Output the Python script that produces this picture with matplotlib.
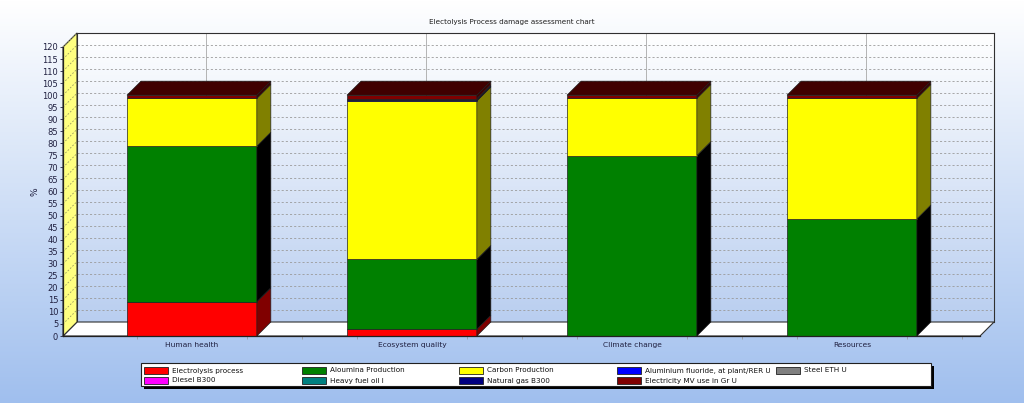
import numpy as np
import matplotlib
matplotlib.use("Agg")
import matplotlib.pyplot as plt
from matplotlib.patches import Polygon, Rectangle
from matplotlib.colors import to_rgb

# ---------------- data ----------------
categories = ["Human health", "Ecosystem quality", "Climate change", "Resources"]
series_names = ["Electrolysis process", "Aloumina Production", "Carbon Production",
                "Aluminium fluoride, at plant/RER U", "Steel ETH U", "Diesel B300",
                "Heavy fuel oil I", "Natural gas B300", "Electricity MV use in Gr U"]
electrolysis = [14.2, 2.8, 0.0, 0.0]
alumina = [64.6, 29.0, 74.9, 48.6]
carbon = [19.9, 65.8, 23.8, 50.1]
al_fluoride = [0.0, 0.3, 0.0, 0.0]
steel = [0.0, 0.0, 0.0, 0.0]
diesel = [0.0, 0.0, 0.0, 0.0]
heavy_fuel = [0.0, 0.0, 0.0, 0.0]
natural_gas = [0.0, 0.6, 0.0, 0.0]
electricity = [1.3, 1.5, 1.3, 1.3]
series_values = [electrolysis, alumina, carbon, al_fluoride, steel, diesel,
                 heavy_fuel, natural_gas, electricity]
y_ticks = list(range(0, 121, 5))

# ---------------- styles ----------------
front_colors = ["#ff0000", "#008000", "#ffff00", "#0000ff", "#808080",
                "#ff00ff", "#008080", "#000080", "#800000"]
side_colors = ["#800000", "#000000", "#808000", "#000080", "#404040",
               "#800080", "#004040", "#000040", "#400000"]
FONT = "DejaVu Sans"
plt.rcParams["font.family"] = [FONT]
TXT = 5.2

W, H = 1024, 403
fig = plt.figure(figsize=(W / 100, H / 100), dpi=100)

def fx(px):
    return px / W

def fy(py):
    return 1 - py / H

# background gradient
bg = fig.add_axes([0, 0, 1, 1], zorder=-10)
top_c = np.array(to_rgb("#ffffff"))
bot_c = np.array(to_rgb("#a0bfee"))
t = np.linspace(0, 1, 256)[:, None, None]
grad = top_c[None, None, :] * (1 - t) + bot_c[None, None, :] * t
bg.imshow(grad, aspect="auto", extent=[0, 1, 0, 1])
bg.set_xlim(0, 1); bg.set_ylim(0, 1)
bg.axis("off")

# geometry (pixels)
FL, FR, FT, FB = 63, 980, 47, 336   # front plane
D = 14                              # depth offset in pixels
xmin, xmax = -0.586, 3.582
ymin, ymax = 0, 120

# back wall axes
back = fig.add_axes([fx(FL + D), fy(FB - D), fx(FR - FL), (FB - FT) / H], zorder=-5)
wt = np.array(to_rgb("#ffffff")); wb = np.array(to_rgb("#b9cef0"))
g2 = wt[None, None, :] * (1 - t) + wb[None, None, :] * t
back.imshow(g2, aspect="auto", extent=[xmin, xmax, ymin, ymax], zorder=0)
back.set_xlim(xmin, xmax); back.set_ylim(ymin, ymax)
for v in y_ticks[1:]:
    back.axhline(v, color="#9a9a9a", lw=0.6, ls=(0, (2.5, 2.5)), zorder=1)
for i in range(len(categories)):
    back.axvline(i, color="#a8a8a8", lw=0.6, zorder=1)
back.set_xticks([]); back.set_yticks([])
for s in ["top", "right", "left"]:
    back.spines[s].set_color("#303030"); back.spines[s].set_linewidth(0.8)
back.spines["bottom"].set_visible(False)

# front axes
ax = fig.add_axes([fx(FL), fy(FB), fx(FR - FL), (FB - FT) / H], zorder=0)
ax.set_xlim(xmin, xmax); ax.set_ylim(ymin, ymax)
ax.patch.set_visible(False)
ddx = D * (xmax - xmin) / (FR - FL)
ddy = D * (ymax - ymin) / (FB - FT)

# floor
ax.add_patch(Polygon([(xmin, 0), (xmax, 0), (xmax + ddx, ddy), (xmin + ddx, ddy)],
                     closed=True, fc="white", ec="#303030", lw=0.8, zorder=1, clip_on=False))
# left wall
ax.add_patch(Polygon([(xmin, 0), (xmin + ddx, ddy), (xmin + ddx, ymax + ddy), (xmin, ymax)],
                     closed=True, fc="#ffff80", ec="#303030", lw=0.8, zorder=1, clip_on=False))
for v in y_ticks[1:]:
    ax.plot([xmin, xmin + ddx], [v, v + ddy], color="#9a9a60", lw=0.6,
            ls=(0, (2, 2)), zorder=2, clip_on=False)

# bars
w = 0.59
for i in range(len(categories)):
    x0, x1 = i - w / 2, i + w / 2
    bottom = 0.0
    top_idx = None
    for k, vals in enumerate(series_values):
        v = vals[i]
        if v <= 0:
            continue
        ax.add_patch(Rectangle((x0, bottom), w, v, fc=front_colors[k], ec="#202020",
                               lw=0.5, zorder=3, clip_on=False))
        ax.add_patch(Polygon([(x1, bottom), (x1 + ddx, bottom + ddy),
                              (x1 + ddx, bottom + v + ddy), (x1, bottom + v)],
                             closed=True, fc=side_colors[k], ec="#202020", lw=0.5,
                             zorder=3, clip_on=False))
        bottom += v
        top_idx = k
    if top_idx is not None:
        ax.add_patch(Polygon([(x0, bottom), (x1, bottom), (x1 + ddx, bottom + ddy),
                              (x0 + ddx, bottom + ddy)], closed=True,
                             fc=side_colors[top_idx], ec="#202020", lw=0.5,
                             zorder=3, clip_on=False))

# axes decoration
for s in ["top", "right"]:
    ax.spines[s].set_visible(False)
for s in ["left", "bottom"]:
    ax.spines[s].set_color("#202020"); ax.spines[s].set_linewidth(0.9)
    ax.spines[s].set_zorder(5)
ax.set_yticks(y_ticks)
ax.set_yticklabels([str(v) for v in y_ticks])
ax.tick_params(axis="y", length=2, width=0.6, pad=1.5, labelsize=6, colors="#202040")
ax.set_xticks(range(len(categories)))
ax.set_xticklabels(categories)
ax.tick_params(axis="x", length=0, pad=4.5, labelsize=TXT + 0.2, colors="#202040")
minor = []
for i in range(len(categories)):
    minor += [i - 0.25, i + 0.25, i + 0.5]
ax.set_xticks(minor, minor=True)
ax.tick_params(axis="x", which="minor", length=2, width=0.5, color="#909090")
ax.set_ylabel("%", fontsize=6.5, color="#202040")
ax.yaxis.set_label_coords((39 - FL) / (FR - FL), 0.5)

# title
fig.text(0.5, fy(22), "Electolysis Process damage assessment chart", ha="center",
         va="center", fontsize=TXT, color="#202020")

# legend (manual, row-major)
lx0, lx1, ly0, ly1 = 141, 931, 363, 386
fig.patches.append(Rectangle((fx(lx0 + 3), fy(ly1 + 3)), fx(lx1 - lx0), (ly1 - ly0) / H,
                             transform=fig.transFigure, fc="#000000", ec="none", zorder=1))
fig.patches.append(Rectangle((fx(lx0), fy(ly1)), fx(lx1 - lx0), (ly1 - ly0) / H,
                             transform=fig.transFigure, fc="white", ec="#202020",
                             lw=0.8, zorder=2))
col_x = [144, 302, 459, 617, 776]
row_y = [370.5, 380.5]
for k, name in enumerate(series_names):
    r, c = divmod(k, 5)
    sx, sy = col_x[c], row_y[r]
    fig.patches.append(Rectangle((fx(sx), fy(sy + 3.5)), fx(24), 7 / H,
                                 transform=fig.transFigure, fc=front_colors[k],
                                 ec="#202020", lw=0.6, zorder=3))
    fig.text(fx(sx + 28), fy(sy), name, ha="left", va="center", fontsize=TXT,
             color="#101010", zorder=4)

fig.savefig("out.png", dpi=100)
